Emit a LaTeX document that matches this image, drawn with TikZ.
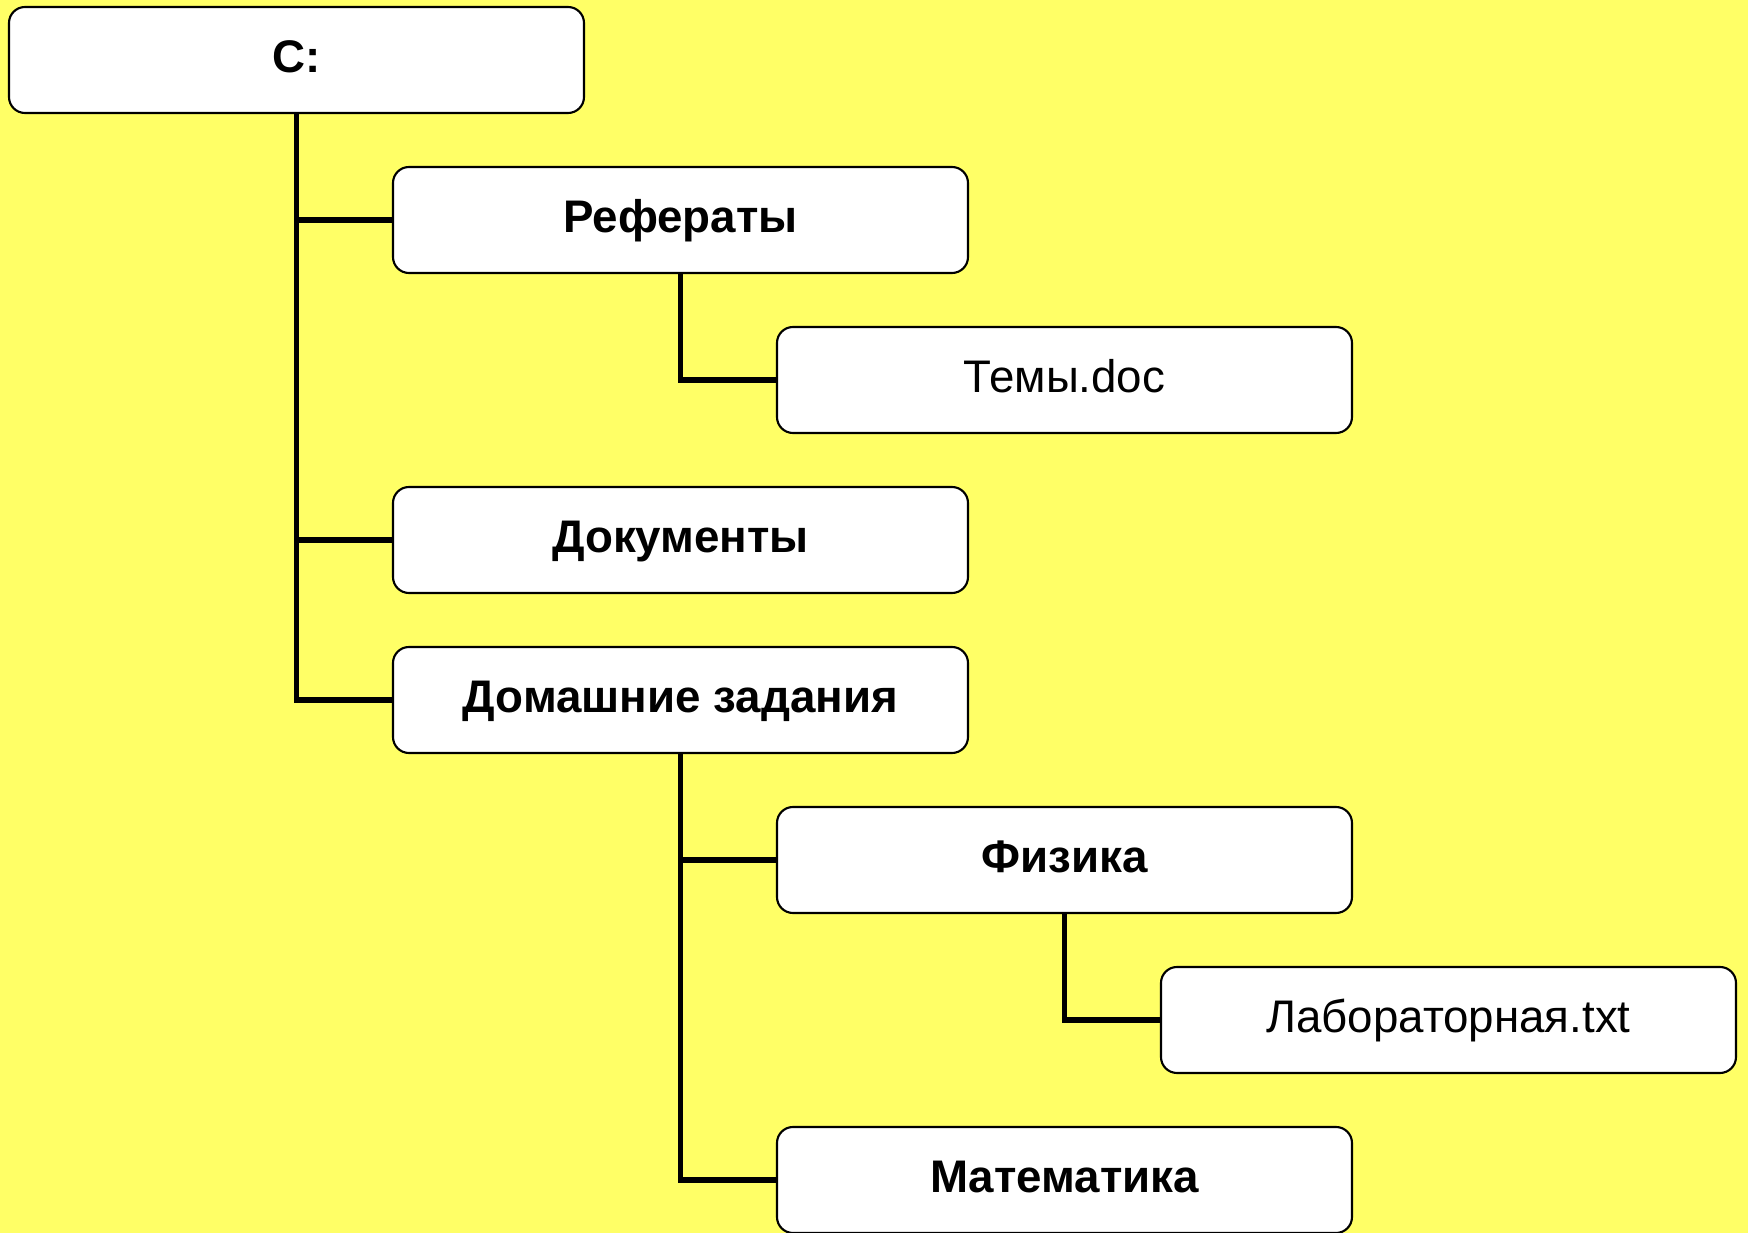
\documentclass[tikz,border=0pt]{standalone}
\usepackage{fontspec}
\setmainfont{Liberation Sans}
\usetikzlibrary{positioning}
\definecolor{bgyellow}{rgb}{1,1,.4}
\def\Disk{C:}

\begin{document}
\begin{tikzpicture}[% styles for the whole tree
			every node/.style={
				font=\fontsize{13}{15}\selectfont	% one line of text per box
			},
			folder/.style={rectangle,rounded corners=0.16cm,draw=black,line width=0.6pt,fill=white,
				minimum width=5.75cm,minimum height=1.06cm,inner sep=0pt,outer sep=0pt,
				text height=7.4pt,text depth=0pt},	% caps sit in the middle of the box
			dir/.style={folder,font=\fontsize{13}{15}\selectfont\bfseries},
			tree/.style={draw,line width=1.5pt}
		]
		\fill[bgyellow] (0,0) rectangle (17.48,-12.33);
		\useasboundingbox (0,0) rectangle (17.48,-12.33);
		\node[dir,anchor=north west](R1) at (0.09,-0.07){\Disk};
		\node[dir](R2)[below=0.54cm of R1,xshift=3.84cm]{Рефераты};
		\node[folder](R3)[below=0.54cm of R2,xshift=3.84cm]{Темы.doc};
		\node[dir](R4)[below=0.54cm of R3,xshift=-3.84cm]{Документы};
		\node[dir](R5)[below=0.54cm of R4]{Домашние задания};
		\node[dir](R6)[below=0.54cm of R5,xshift=3.84cm]{Физика};
		\node[folder](R7)[below=0.54cm of R6,xshift=3.84cm]{Лабораторная.txt};
		\node[dir](R8)[below=0.54cm of R7,xshift=-3.84cm]{Математика};
		\path[tree]
		(R1.south) |- (R2.west)
		(R1.south) |- (R4.west)
		(R1.south) |- (R5.west)
		(R2.south) |- (R3.west)
		(R5.south) |- (R6.west)
		(R5.south) |- (R8.west)
		(R6.south) |- (R7.west)
		;
	\end{tikzpicture}
\end{document}
